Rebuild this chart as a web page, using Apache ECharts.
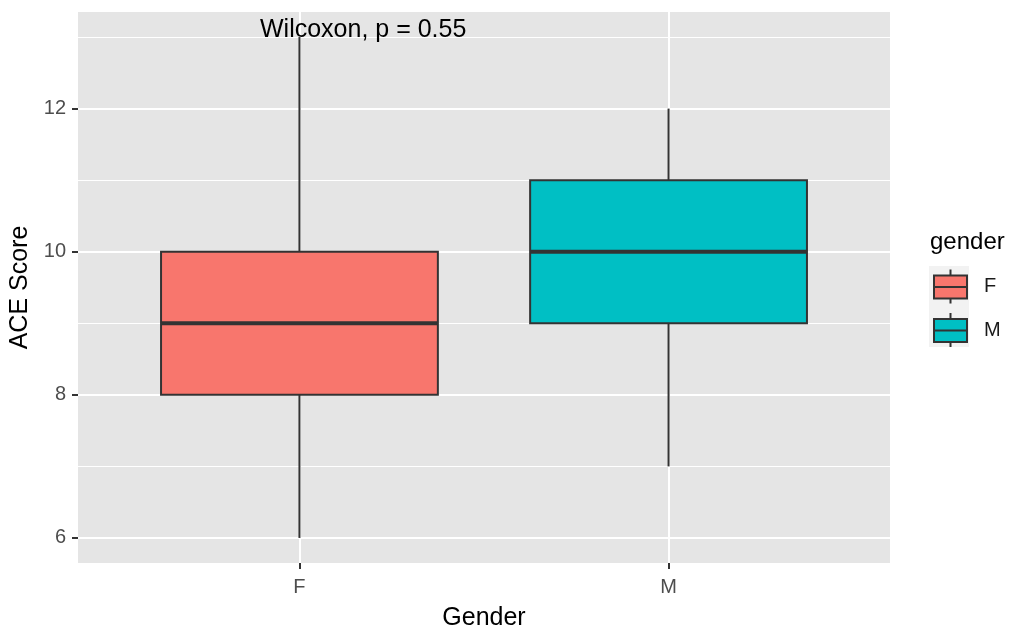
<!DOCTYPE html>
<html>
<head>
<meta charset="utf-8">
<script src="https://cdn.jsdelivr.net/npm/echarts@6/dist/echarts.min.js"></script>
<style>html,body{margin:0;padding:0;background:#fff;}#c{width:1012px;height:629px;}</style>
</head>
<body>
<div id="c"></div>
<script>
// Data
const categories = ['F', 'M'];
const seriesNames = ['F', 'M'];
// [x position, min, Q1, median, Q3, max]
const boxF = [1, 6, 8, 9, 10, 13];
const boxM = [2, 7, 9, 10, 11, 12];
const yMajorTicks = [6, 8, 10, 12];
const yMinorTicks = [7, 9, 11, 13];
const xTicks = [1, 2];
const colors = ['#F8766D', '#00BFC4'];
const annotation = 'Wilcoxon, p = 0.55';

const FONT = '"Liberation Sans", Arial, sans-serif';

function renderBox(params, api) {
  const x = api.value(0);
  const vmin = api.value(1), q1 = api.value(2), med = api.value(3), q3 = api.value(4), vmax = api.value(5);
  const half = api.size([0.75, 0])[0] / 2;
  const pMin = api.coord([x, vmin]);
  const pQ1 = api.coord([x, q1]);
  const pMed = api.coord([x, med]);
  const pQ3 = api.coord([x, q3]);
  const pMax = api.coord([x, vmax]);
  const stroke = '#333333';
  const fill = api.visual('color');
  return {
    type: 'group',
    children: [
      { type: 'line', shape: { x1: pMax[0], y1: pMax[1], x2: pQ3[0], y2: pQ3[1] }, style: { stroke: stroke, lineWidth: 2 } },
      { type: 'line', shape: { x1: pQ1[0], y1: pQ1[1], x2: pMin[0], y2: pMin[1] }, style: { stroke: stroke, lineWidth: 2 } },
      { type: 'rect', shape: { x: pQ3[0] - half, y: pQ3[1], width: half * 2, height: pQ1[1] - pQ3[1] }, style: { fill: fill, stroke: stroke, lineWidth: 2 } },
      { type: 'line', shape: { x1: pMed[0] - half, y1: pMed[1], x2: pMed[0] + half, y2: pMed[1] }, style: { stroke: stroke, lineWidth: 4 } }
    ]
  };
}

const iconPath = 'path://M16.5,0L16.5,6M0,6L33,6L33,29L0,29ZM0,17.5L33,17.5M16.5,29L16.5,34';

const chart = echarts.init(document.getElementById('c'), null, { renderer: 'canvas' });
chart.setOption({
  backgroundColor: '#ffffff',
  animation: false,
  textStyle: { fontFamily: FONT },
  title: {
    text: annotation,
    left: 255, top: 13,
    textStyle: { fontFamily: FONT, fontSize: 25, fontWeight: 'normal', color: '#000000' }
  },
  graphic: [
    { type: 'rect', left: 929, top: 266, shape: { width: 40, height: 81 }, style: { fill: '#F2F2F2' }, z: 0 },
    { type: 'text', left: 930, top: 230, style: { text: 'gender', font: '24px ' + FONT, fill: '#000000' } }
  ],
  legend: {
    orient: 'vertical',
    left: 933, top: 268.5,
    itemWidth: 33, itemHeight: 34, itemGap: 7.5,
    padding: 0,
    data: seriesNames.map(n => ({ name: n, icon: iconPath })),
    itemStyle: { borderColor: '#333333', borderWidth: 2 },
    textStyle: { fontFamily: FONT, fontSize: 20, color: '#1A1A1A', padding: [0, 0, 0, 12] },
    selectedMode: false
  },
  grid: {
    left: 78, right: 122, top: 12, bottom: 66,
    outerBoundsMode: 'none', containLabel: false,
    show: true, backgroundColor: '#E5E5E5', borderWidth: 0
  },
  xAxis: {
    type: 'value', min: 0.4, max: 2.6,
    name: 'Gender', nameLocation: 'middle', nameGap: 43,
    nameTextStyle: { fontFamily: FONT, fontSize: 25, color: '#000000' },
    axisLine: { show: false },
    axisTick: { show: true, customValues: xTicks, length: 6, lineStyle: { color: '#333333', width: 2 } },
    axisLabel: { customValues: xTicks, formatter: v => categories[Math.round(v) - 1], fontFamily: FONT, fontSize: 20, color: '#4D4D4D', margin: 14 },
    splitLine: { show: true, lineStyle: { color: '#FFFFFF', width: 2 } }
  },
  yAxis: [
    {
      type: 'value', min: 5.65, max: 13.35,
      name: 'ACE Score', nameLocation: 'middle', nameGap: 44,
      nameTextStyle: { fontFamily: FONT, fontSize: 25, color: '#000000' },
      axisLine: { show: false },
      axisTick: { show: true, customValues: yMajorTicks, length: 6, lineStyle: { color: '#333333', width: 2 } },
      axisLabel: { customValues: yMajorTicks, fontFamily: FONT, fontSize: 20, color: '#4D4D4D', margin: 12 },
      splitLine: { show: true, lineStyle: { color: '#FFFFFF', width: 2 } },
      z: 1
    },
    {
      type: 'value', min: 5.65, max: 13.35, position: 'left',
      axisLine: { show: false },
      axisTick: { show: false, customValues: yMinorTicks },
      axisLabel: { show: false, customValues: yMinorTicks },
      splitLine: { show: true, lineStyle: { color: '#FFFFFF', width: 1 } },
      z: 0
    }
  ],
  series: [
    { name: seriesNames[0], type: 'custom', renderItem: renderBox, itemStyle: { color: colors[0] }, encode: { x: 0, y: [1, 2, 3, 4, 5] }, data: [boxF], z: 3 },
    { name: seriesNames[1], type: 'custom', renderItem: renderBox, itemStyle: { color: colors[1] }, encode: { x: 0, y: [1, 2, 3, 4, 5] }, data: [boxM], z: 3 }
  ]
});
</script>
</body>
</html>
